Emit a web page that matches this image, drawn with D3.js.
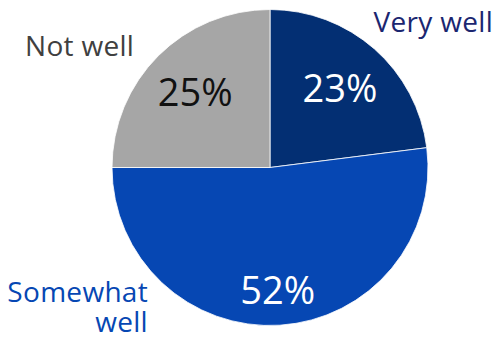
<!DOCTYPE html>
<html>
<head>
<meta charset="utf-8">
<script src="https://cdn.jsdelivr.net/npm/d3@7"></script>
<style>
  html, body { margin: 0; padding: 0; background: #fff; }
  svg { display: block; }
  text { font-family: "Open Sans", "Noto Sans", sans-serif; }
</style>
</head>
<body>
<svg id="chart" width="495" height="339"></svg>
<script>
// Survey response shares, clockwise from 12 o'clock
const categories = ["Very well", "Somewhat well", "Not well"];
const shares = [23, 52, 25];
const sliceColors = ["#032F73", "#0647B3", "#A6A6A6"];
const valueColors = ["#ffffff", "#ffffff", "#111111"];
const nameColors = ["#1B2670", "#0647B3", "#404040"];

const cx = 270, cy = 167.5, R = 158;
const valueSize = 38, nameSize = 28;

const svg = d3.select("#chart");
const g = svg.append("g").attr("transform", `translate(${cx},${cy})`);

const data = categories.map((c, i) => ({ name: c, value: shares[i], i }));

const pie = d3.pie().sort(null).value(d => d.value);
const arcs = pie(data);
const arc = d3.arc().innerRadius(0).outerRadius(R);

g.selectAll("path.slice")
  .data(arcs)
  .join("path")
  .attr("class", "slice")
  .attr("d", arc)
  .attr("fill", d => sliceColors[d.data.i])
  .attr("stroke", "#fff")
  .attr("stroke-width", 0.8);

// Value labels inside each slice, placed along the slice bisector
const labelRadius = [0.67, 0.78, 0.67];
g.selectAll("text.value")
  .data(arcs)
  .join("text")
  .attr("class", "value")
  .each(function (d) {
    const r = R * labelRadius[d.data.i];
    const c = d3.arc().innerRadius(r).outerRadius(r).centroid(d);
    d3.select(this)
      .attr("x", c[0])
      .attr("y", c[1] + valueSize * 0.36);
  })
  .attr("text-anchor", "middle")
  .attr("font-size", valueSize)
  .attr("fill", d => valueColors[d.data.i])
  .text(d => d.data.value + "%");

// Category names outside the pie
const nameSpots = [
  { x: 493, y: 32, anchor: "end", lines: ["Very well"] },
  { x: 148, y: 302, anchor: "end", lines: ["Somewhat", "well"] },
  { x: 25, y: 56, anchor: "start", lines: ["Not well"] }
];
data.forEach((d, i) => {
  const s = nameSpots[i];
  s.lines.forEach((ln, k) => {
    svg.append("text")
      .attr("x", s.x)
      .attr("y", s.y + k * 30)
      .attr("text-anchor", s.anchor)
      .attr("font-size", nameSize)
      .attr("letter-spacing", 0.3)
      .attr("fill", nameColors[i])
      .text(ln);
  });
});
</script>
</body>
</html>
